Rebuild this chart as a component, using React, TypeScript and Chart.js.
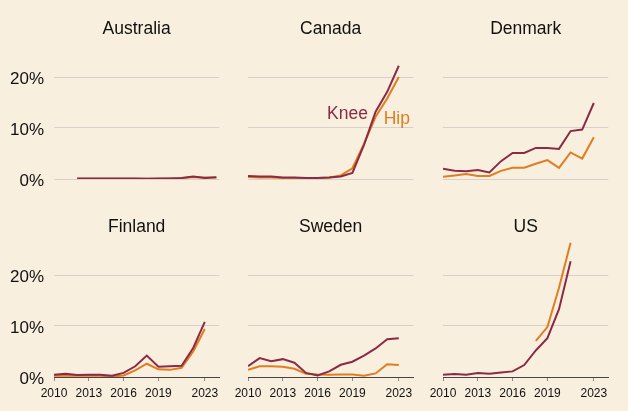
import React, { useEffect, useRef } from "react";
import { Chart, registerables } from "chart.js";

Chart.register(...registerables);

// ---------- data ----------
const years = [2010, 2011, 2012, 2013, 2014, 2015, 2016, 2017, 2018, 2019, 2020, 2021, 2022, 2023, 2024];
const xTicks = [2010, 2013, 2016, 2019, 2023];
const yTicks = [0, 10, 20];
const countries = ["Australia", "Canada", "Denmark", "Finland", "Sweden", "US"];

const australiaKnee = [null, null, 0.1, 0.1, 0.1, 0.1, 0.1, 0.1, 0.05, 0.1, 0.1, 0.2, 0.5, 0.2, 0.35];
const australiaHip = [null, null, 0.05, 0.05, 0.05, 0.05, 0.05, 0.05, 0.05, 0.05, 0.1, 0.15, 0.4, 0.3, 0.3];

const canadaKnee = [0.6, 0.5, 0.5, 0.3, 0.3, 0.2, 0.2, 0.3, 0.5, 1.2, 6.7, 13.2, 17.1, 22.2, null];
const canadaHip = [0.4, 0.3, 0.3, 0.2, 0.2, 0.2, 0.2, 0.3, 0.7, 2.1, 6.9, 12.2, 15.8, 20.0, null];

const denmarkKnee = [2.0, 1.6, 1.5, 1.75, 1.3, 3.5, 5.1, 5.1, 6.1, 6.1, 5.9, 9.4, 9.7, 14.9, null];
const denmarkHip = [0.45, 0.7, 1.0, 0.6, 0.6, 1.6, 2.2, 2.2, 3.0, 3.7, 2.2, 5.2, 4.0, 8.2, null];

const finlandKnee = [0.45, 0.65, 0.4, 0.45, 0.45, 0.25, 0.8, 2.1, 4.2, 2.0, 2.1, 2.2, 5.7, 10.8, null];
const finlandHip = [0.25, 0.3, 0.25, 0.25, 0.25, 0.1, 0.3, 1.3, 2.6, 1.5, 1.4, 1.8, 5.0, 9.4, null];

const swedenKnee = [2.1, 3.7, 3.1, 3.5, 2.8, 0.8, 0.3, 1.1, 2.4, 3.0, 4.2, 5.6, 7.4, 7.6, null];
const swedenHip = [1.4, 2.1, 2.1, 2.0, 1.6, 0.65, 0.5, 0.45, 0.5, 0.5, 0.25, 0.7, 2.5, 2.35, null];

const usKnee = [0.45, 0.6, 0.45, 0.8, 0.65, 0.9, 1.1, 2.35, 5.2, 7.6, 13.3, 22.7, null, null, null];
const usHip = [null, null, null, null, null, null, null, null, 7.1, 9.8, 17.5, 26.3, null, null, null];

const seriesNames = ["Knee", "Hip"];
// Canada in-chart labels: x (year), y (%)
const canadaLabelX = [2020.34, 2021.7];
const canadaLabelY = [11.8, 10.8];

// ---------- style ----------
const FONT = '"Liberation Sans", Arial, Helvetica, sans-serif';
const BG = "#f8efdf";
const KNEE_COLOR = "#8c2a45";
const HIP_COLOR = "#e07d1f";
const GRID_COLOR = "#d6d2cb";
const TEXT_COLOR = "#111111";

const Y_MAX = 27;
const X_MIN = 2010;
const X_MAX = 2024.25;

const colLeft = [0, 228.3, 423];
const colPadLeft = [0, 20, 20];
const colWidth = [228, 195, 195];
const plotWidth = 165.3;
const rowTop = [0, 200];
const rowHeight = [200, 211];

type Panel = {
  name: string;
  knee: (number | null)[];
  hip: (number | null)[];
  col: number;
  row: number;
};

const panels: Panel[] = [
  { name: countries[0], knee: australiaKnee, hip: australiaHip, col: 0, row: 0 },
  { name: countries[1], knee: canadaKnee, hip: canadaHip, col: 1, row: 0 },
  { name: countries[2], knee: denmarkKnee, hip: denmarkHip, col: 2, row: 0 },
  { name: countries[3], knee: finlandKnee, hip: finlandHip, col: 0, row: 1 },
  { name: countries[4], knee: swedenKnee, hip: swedenHip, col: 1, row: 1 },
  { name: countries[5], knee: usKnee, hip: usHip, col: 2, row: 1 },
];

function toPoints(values: (number | null)[]) {
  const pts: { x: number; y: number }[] = [];
  years.forEach((yr, i) => {
    const v = values[i];
    if (v !== null && v !== undefined) pts.push({ x: yr, y: v });
  });
  return pts;
}

const decoPlugin = {
  id: "panelDeco",
  afterDraw(chart: any, _args: any, opts: any) {
    const { ctx, chartArea, scales } = chart;
    const ys = scales.y;
    const xs = scales.x;
    ctx.save();
    ctx.font = `17.5px ${FONT}`;
    ctx.fillStyle = TEXT_COLOR;
    ctx.textAlign = "center";
    ctx.textBaseline = "alphabetic";
    ctx.fillText(opts.title, (chartArea.left + chartArea.right) / 2, ys.getPixelForValue(20) - 43);
    if (opts.annotate) {
      ctx.fillStyle = KNEE_COLOR;
      ctx.textAlign = "right";
      ctx.fillText(seriesNames[0], xs.getPixelForValue(canadaLabelX[0]), ys.getPixelForValue(canadaLabelY[0]));
      ctx.fillStyle = HIP_COLOR;
      ctx.textAlign = "left";
      ctx.fillText(seriesNames[1], xs.getPixelForValue(canadaLabelX[1]), ys.getPixelForValue(canadaLabelY[1]));
    }
    ctx.restore();
  },
};

function PanelChart({ panel }: { panel: Panel }) {
  const ref = useRef<HTMLCanvasElement>(null);
  const w = colWidth[panel.col];
  const h = rowHeight[panel.row];

  useEffect(() => {
    const canvas = ref.current;
    if (!canvas) return;
    const isLeft = panel.col === 0;
    const isBottom = panel.row === 1;
    const yAxisW = isLeft ? 54 : 0;
    const padLeft = colPadLeft[panel.col];
    const padRight = w - padLeft - yAxisW - plotWidth;
    const padTop = isBottom ? 39.3 : 41.3;
    const padBottom = isBottom ? 0 : 21;

    const chart = new Chart(canvas, {
      type: "line",
      data: {
        datasets: [
          {
            label: seriesNames[0],
            data: toPoints(panel.knee),
            borderColor: KNEE_COLOR,
            backgroundColor: KNEE_COLOR,
            borderWidth: 2,
            pointRadius: 0,
            tension: 0,
            fill: false,
          },
          {
            label: seriesNames[1],
            data: toPoints(panel.hip),
            borderColor: HIP_COLOR,
            backgroundColor: HIP_COLOR,
            borderWidth: 2,
            pointRadius: 0,
            tension: 0,
            fill: false,
          },
        ],
      },
      options: {
        animation: false,
        responsive: false,
        maintainAspectRatio: false,
        layout: { padding: { left: padLeft, right: padRight, top: padTop, bottom: padBottom } },
        plugins: {
          legend: { display: false },
          tooltip: { enabled: false },
          title: { display: false },
          // @ts-ignore
          panelDeco: { title: panel.name, annotate: panel.name === "Canada" },
        },
        scales: {
          x: {
            type: "linear",
            min: X_MIN,
            max: X_MAX,
            display: isBottom,
            afterBuildTicks: (s: any) => {
              s.ticks = xTicks.map((v) => ({ value: v }));
            },
            afterFit: (s: any) => {
              s.height = isBottom ? 34 : 0;
            },
            ticks: {
              autoSkip: false,
              maxRotation: 0,
              minRotation: 0,
              padding: 5,
              color: TEXT_COLOR,
              font: { family: FONT, size: 12 },
              callback: (v: any) => String(v),
            },
            grid: {
              display: true,
              drawOnChartArea: false,
              drawTicks: true,
              tickLength: 4,
              color: "#8a8a8a",
            },
            border: { display: true, color: "#444444", width: 1 },
          },
          y: {
            type: "linear",
            min: 0,
            max: Y_MAX,
            afterBuildTicks: (s: any) => {
              s.ticks = yTicks.map((v) => ({ value: v }));
            },
            afterFit: (s: any) => {
              s.width = yAxisW;
            },
            ticks: {
              display: isLeft,
              padding: 10,
              labelOffset: 2.5,
              color: TEXT_COLOR,
              font: { family: FONT, size: 17 },
              callback: (v: any) => `${v}%`,
            },
            grid: {
              drawTicks: false,
              lineWidth: 1,
              color: (c: any) =>
                isBottom && c.tick && c.tick.value === 0 ? "rgba(0,0,0,0)" : GRID_COLOR,
            },
            border: { display: false },
          },
        },
      } as any,
      plugins: [decoPlugin as any],
    });
    return () => chart.destroy();
  }, [panel, w, h]);

  return (
    <canvas
      ref={ref}
      width={w}
      height={h}
      style={{
        position: "absolute",
        left: colLeft[panel.col],
        top: rowTop[panel.row],
        width: w,
        height: h,
      }}
    />
  );
}

export default function App() {
  return (
    <div
      style={{
        position: "fixed",
        left: 0,
        top: 0,
        width: 628,
        height: 411,
        background: BG,
        overflow: "hidden",
      }}
    >
      {panels.map((p) => (
        <PanelChart key={p.name} panel={p} />
      ))}
    </div>
  );
}
